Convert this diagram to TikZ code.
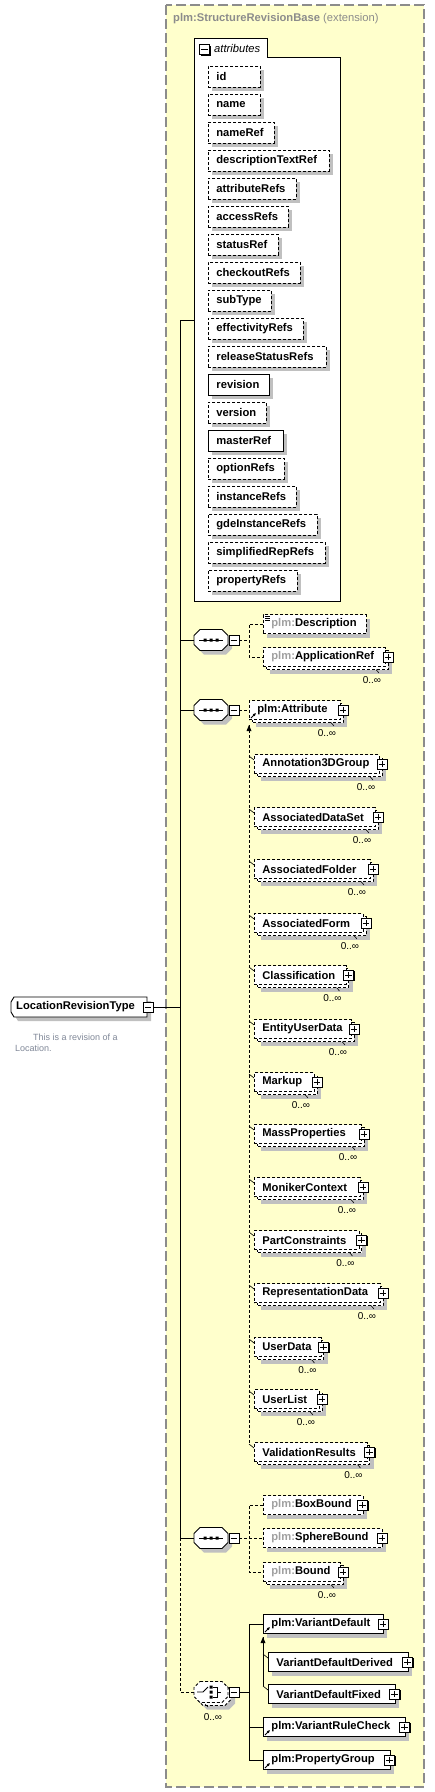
\documentclass[tikz,border=0pt]{standalone}
\usepackage{fontspec}
\setmainfont{Liberation Sans}
\usetikzlibrary{arrows.meta}
\definecolor{bgy}{HTML}{FFFFCC}
\definecolor{bord}{HTML}{8C8C8C}
\definecolor{shd}{HTML}{C0C0C0}
\definecolor{pfx}{HTML}{A0A0A0}
\definecolor{dsc}{HTML}{808898}
\newcommand\elfont{\fontsize{11.2}{13}\selectfont\bfseries}
\newcommand\mlfont{\fontsize{10}{12}\selectfont}
\newcommand\pf{\textcolor{pfx}{plm:}}
\tikzset{
  lw/.style={line width=0.9pt},
  dsh/.style={line width=0.9pt, dash pattern=on 3pt off 2pt},
  ebd/.style={line width=0.8pt, dash pattern=on 3pt off 2pt},
  esl/.style={line width=0.9pt, solid},
  ebox/.style={anchor=west, minimum height=19pt, inner xsep=8pt, inner ysep=0pt, fill=white, draw, font=\elfont, align=left},
  abox/.style={anchor=west, minimum height=21pt, inner xsep=8pt, inner ysep=0pt, fill=white, draw, font=\elfont, align=left},
  pmbox/.style={draw, fill=white, minimum size=10pt, inner sep=0pt, line width=0.8pt},
  mult/.style={font=\mlfont, inner sep=0pt},
  tick/.style={line width=0.6pt},
  refarr/.style={line width=0.8pt, -{Latex[length=3pt,width=3pt]}},
}
\newcommand\xplus[3]{%
  \fill (#2-4,#3-4) rectangle (#2+6,#3+6);
  \node[pmbox] (#1) at (#2,#3) {};
  \draw[line width=0.8pt] ([xshift=2pt]#1.west) -- ([xshift=-2pt]#1.east) ([yshift=-2pt]#1.north) -- ([yshift=2pt]#1.south);
}
\newcommand\xminus[3]{%
  \fill (#2-4,#3-4) rectangle (#2+6,#3+6);
  \node[pmbox] (#1) at (#2,#3) {};
  \draw[line width=0.8pt] ([xshift=2pt]#1.west) -- ([xshift=-2pt]#1.east);
}
% name L cy W label style multi plus
\newcommand\xelem[8]{%
  \pgfmathsetmacro\xtw{#4-16}%
  \ifnum#7=1
    \fill[shd] (#2+7,#3-2.5) rectangle (#2+#4+7,#3+16.5);
    \draw[ebd,fill=white] (#2+3,#3-6.5) rectangle (#2+#4+3,#3+12.5);
  \else
    \fill[shd] (#2+4,#3-5.5) rectangle (#2+#4+4,#3+13.5);
  \fi
  \node[ebox,#6,minimum width=#4pt,text width=\xtw pt] (#1) at (#2,#3) {#5};
  \ifnum#8=1
    \ifnum#7=1
      \xplus{#1p}{#2+#4+3}{#3}
      \node[mult] (#1n) at (#2+#4-13,#3+23) {0..∞};
      \draw[tick] (#2+#4-9,#3+12.5) -- (#2+#4-6,#3+16);
    \else
      \xplus{#1p}{#2+#4}{#3}
    \fi
  \fi
}
% name index W style
\newcommand\xattr[4]{%
  \pgfmathsetmacro\xcy{76.5+28*#2}%
  \pgfmathsetmacro\xtw{#3-16}%
  \fill[shd] (212,\xcy-6.5) rectangle (208+#3+4,\xcy+14.5);
  \node[abox,#4,minimum width=#3pt,text width=\xtw pt] (at#1) at (208,\xcy) {#1};
}
\newcommand\xseq[2]{%
  \begin{scope}[shift={(194,#2)}]
    \fill[shd] (10,-6.5) -- (32,-6.5) -- (38,-0.5) -- (38,8.5) -- (32,14.5) -- (10,14.5) -- (4,8.5) -- (4,-0.5) -- cycle;
    \draw[lw,fill=white] (6,-10.5) -- (28,-10.5) -- (34,-4.5) -- (34,4.5) -- (28,10.5) -- (6,10.5) -- (0,4.5) -- (0,-4.5) -- cycle;
    \draw[line width=0.8pt] (5,0) -- (29,0);
    \fill (9.5,-1.5) rectangle (12.5,1.5) (15.5,-1.5) rectangle (18.5,1.5) (21.5,-1.5) rectangle (24.5,1.5);
  \end{scope}
  \node[inner sep=0pt, minimum width=34pt, minimum height=21pt] (#1) at (211,#2) {};
  \xminus{#1m}{234}{#2}
}
\begin{document}
\begin{tikzpicture}[x=1pt,y=-1pt]
\useasboundingbox (0,0) rectangle (435,1792);
\fill[white] (0,0) rectangle (435,1792);
% extension box
\draw[bord, line width=1.6pt, dash pattern=on 10pt off 4pt, fill=bgy] (166,5) rectangle (424,1787);
\node[anchor=west, inner sep=0pt, font=\fontsize{11.2}{13}\selectfont, text=bord] (title) at (173,19) {\textbf{plm:StructureRevisionBase} (extension)};
% attributes group
\draw[lw, fill=white] (194,38) -- (267,38) -- (267,57) -- (340,57) -- (340,601) -- (194,601) -- cycle;
\xminus{attrm}{204.5}{49.5}
\node[anchor=west, inner sep=0pt, font=\fontsize{11.2}{13}\selectfont\itshape] (attrlbl) at (214,48) {attributes};
\xattr{id}{0}{52}{ebd}
\xattr{name}{1}{52}{ebd}
\xattr{nameRef}{2}{66}{ebd}
\xattr{descriptionTextRef}{3}{121}{ebd}
\xattr{attributeRefs}{4}{88}{ebd}
\xattr{accessRefs}{5}{80}{ebd}
\xattr{statusRef}{6}{70}{ebd}
\xattr{checkoutRefs}{7}{92}{ebd}
\xattr{subType}{8}{63}{ebd}
\xattr{effectivityRefs}{9}{95}{ebd}
\xattr{releaseStatusRefs}{10}{118}{ebd}
\xattr{revision}{11}{61}{esl}
\xattr{version}{12}{58}{ebd}
\xattr{masterRef}{13}{75}{esl}
\xattr{optionRefs}{14}{76}{ebd}
\xattr{instanceRefs}{15}{88}{ebd}
\xattr{gdeInstanceRefs}{16}{109}{ebd}
\xattr{simplifiedRepRefs}{17}{117}{ebd}
\xattr{propertyRefs}{18}{89}{ebd}
% complex type
\fill[shd] (18,1001) -- (151,1001) -- (151,1021) -- (18,1021) -- (15,1016) -- (15,1006) -- cycle;
\draw[lw, fill=white] (14,997) -- (147,997) -- (147,1017) -- (14,1017) -- (11,1012) -- (11,1002) -- cycle;
\node[anchor=west, inner sep=0pt, font=\elfont] (lrt) at (16,1007) {LocationRevisionType};
\xminus{lrtm}{148}{1007}
\node[anchor=north west, inner sep=0pt, font=\fontsize{9}{11}\selectfont, text=dsc, align=left] (lrtd) at (15,1034) {\hspace*{18pt}This is a revision of a\\Location.};
% sequences
\xseq{sqa}{640}
\xseq{sqb}{710}
\xseq{sqc}{1538}
% sequence 1 children
\xelem{desc}{263}{624}{103}{\pf Description}{ebd}{0}{0}
\draw[line width=0.6pt] (265,616) -- (270,616) (265,618) -- (270,618) (265,620) -- (270,620);
\xelem{appref}{263}{657}{122}{\pf ApplicationRef}{ebd}{1}{1}
% sequence 2 children
\xelem{attr}{249}{710}{91}{plm:Attribute}{ebd}{1}{1}
\draw[refarr] (251,718) -- (256,713);
\xelem{a3d}{254}{764}{125}{Annotation3DGroup}{ebd}{1}{1}
\xelem{ads}{254}{817}{121}{AssociatedDataSet}{ebd}{1}{1}
\xelem{afo}{254}{869}{116}{AssociatedFolder}{ebd}{1}{1}
\xelem{afm}{254}{923}{109}{AssociatedForm}{ebd}{1}{1}
\xelem{cls}{254}{975}{91.5}{Classification}{ebd}{1}{1}
\xelem{eud}{254}{1029}{97}{EntityUserData}{ebd}{1}{1}
\xelem{mkp}{254}{1082}{60}{Markup}{ebd}{1}{1}
\xelem{mpr}{254}{1134}{107}{MassProperties}{ebd}{1}{1}
\xelem{mon}{254}{1187}{106}{MonikerContext}{ebd}{1}{1}
\xelem{pcs}{254}{1240}{104.5}{PartConstraints}{ebd}{1}{1}
\xelem{rep}{254}{1293}{126}{RepresentationData}{ebd}{1}{1}
\xelem{udt}{254}{1347}{66.5}{UserData}{ebd}{1}{1}
\xelem{uls}{254}{1399}{65}{UserList}{ebd}{1}{1}
\xelem{val}{254}{1452}{112.5}{ValidationResults}{ebd}{1}{1}
% sequence 3 children
\xelem{bbox}{263}{1505}{99.5}{\pf BoxBound}{ebd}{0}{1}
\xelem{sph}{263}{1538}{119}{\pf SphereBound}{ebd}{0}{1}
\xelem{bnd}{263}{1572}{77}{\pf Bound}{ebd}{1}{1}
% choice
\begin{scope}[shift={(194,1692)}]
  \fill[shd] (13,-3.5) -- (35,-3.5) -- (41,2.5) -- (41,11.5) -- (35,17.5) -- (13,17.5) -- (7,11.5) -- (7,2.5) -- cycle;
  \draw[ebd,fill=white] (9,-7.5) -- (31,-7.5) -- (37,-1.5) -- (37,7.5) -- (31,13.5) -- (9,13.5) -- (3,7.5) -- (3,-1.5) -- cycle;
  \draw[ebd,fill=white] (6,-10.5) -- (28,-10.5) -- (34,-4.5) -- (34,4.5) -- (28,10.5) -- (6,10.5) -- (0,4.5) -- (0,-4.5) -- cycle;
  \draw[line width=0.8pt] (3,0) -- (9,0) -- (14,-5);
  \fill (15.5,-6.5) rectangle (18.5,-3.5) (15.5,-1.5) rectangle (18.5,1.5) (15.5,3.5) rectangle (18.5,6.5);
  \draw[line width=0.8pt] (18.5,-5) -- (23,-5) -- (23,5) -- (18.5,5) (23,0) -- (27,0);
\end{scope}
\node[inner sep=0pt, minimum width=34pt, minimum height=21pt] (chc) at (211,1692) {};
\xminus{chcm}{234}{1692}
\draw[tick] (205,1704) -- (208,1707);
\node[mult] (chcn) at (213,1717) {0..∞};
% choice children
\xelem{vdef}{263}{1624}{120}{plm:VariantDefault}{esl}{0}{1}
\draw[refarr] (265,1632) -- (270,1627);
\xelem{vdd}{268}{1662}{139.5}{VariantDefaultDerived}{esl}{0}{1}
\xelem{vdf}{268}{1694}{126.5}{VariantDefaultFixed}{esl}{0}{1}
\xelem{vrc}{263}{1727}{141.5}{plm:VariantRuleCheck}{esl}{0}{1}
\draw[refarr] (265,1735) -- (270,1730);
\xelem{pgrp}{263}{1760}{126.5}{plm:PropertyGroup}{esl}{0}{1}
\draw[refarr] (265,1768) -- (270,1763);
% trunk
\coordinate (tTop) at (180,320);
\coordinate (tMid) at (180,1538);
\coordinate (tBot) at (180,1692);
\coordinate (attrIn) at (194,320);
\draw[lw] (attrIn) -- (tTop) -- (tMid);
\draw[dsh] (tMid) -- (tBot) -- (chc.west);
\draw[lw] (lrtm.east) -- (lrtm.east -| tTop);
\draw[lw] (sqa.west -| tTop) -- (sqa.west);
\draw[lw] (sqb.west -| tTop) -- (sqb.west);
\draw[lw] (tMid) -- (sqc.west);
% sequence 1 connectors
\coordinate (va) at (249,640);
\draw[dsh] (sqam.east) -- (va);
\draw[dsh] (desc.west) -- (desc.west -| va) -- (appref.west -| va) -- (appref.west);
% sequence 2 connectors
\draw[dsh] (sqbm.east) -- (attr.west);
\coordinate (subA) at (249,725);
\coordinate (subB) at (249,1444);
\draw[dsh] (subA) -- (subB);
\fill (subA) -- ++(-2.5,6) -- ++(5,0) -- cycle;
\foreach \m in {a3d,ads,afo,afm,cls,eud,mkp,mpr,mon,pcs,rep,udt,uls,val}
  \draw[tick] (\m.west -| subA) ++(0,-8) -- ([yshift=4pt]\m.west);
% sequence 3 connectors
\coordinate (vc) at (249,1538);
\draw[dsh] (sqcm.east) -- (vc);
\draw[dsh] (bbox.west) -- (bbox.west -| vc) -- (bnd.west -| vc) -- (bnd.west);
\draw[dsh] (vc) -- (sph.west);
% choice connectors
\coordinate (vd) at (249,1692);
\draw[lw] (chcm.east) -- (vd);
\draw[lw] (vdef.west) -- (vdef.west -| vd) -- (pgrp.west -| vd) -- (pgrp.west);
\draw[lw] (vrc.west -| vd) -- (vrc.west);
\coordinate (subC) at (263,1637);
\coordinate (subD) at (263,1686);
\draw[lw] (subC) -- (subD);
\fill (subC) -- ++(-2.5,6) -- ++(5,0) -- cycle;
\foreach \m in {vdd,vdf}
  \draw[tick] (\m.west -| subC) ++(0,-8) -- ([yshift=4pt]\m.west);
\end{tikzpicture}
\end{document}
